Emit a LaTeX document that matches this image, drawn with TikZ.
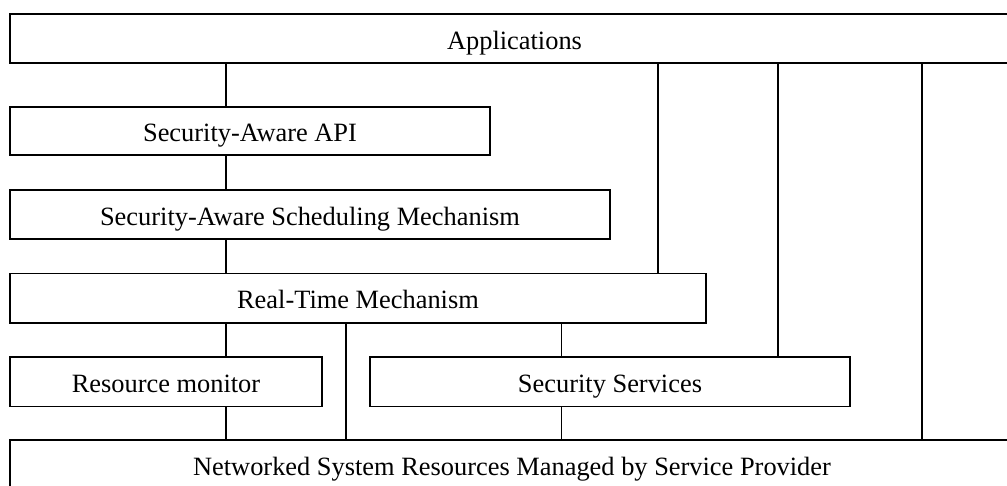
\documentclass[tikz,border=0pt]{standalone}
\usepackage{fontspec}
\setmainfont{Liberation Serif}
\begin{document}
\begin{tikzpicture}[x=1pt,y=-1pt,line width=1.4pt,
  layerbox/.style={draw,rectangle,inner sep=0pt,text height=21.5pt,text depth=0pt,
    font=\fontsize{26.4}{30}\selectfont},
  link/.style={draw,line width=1.4pt}]
\useasboundingbox (0,0) rectangle (1007,485);
\clip (0,0) rectangle (1007,485);
\node[layerbox,minimum width=1009pt,minimum height=49pt] (app) at (514.5,38.5) {Applications};
\node[layerbox,minimum width=480pt,minimum height=48pt] (api) at (250,131) {Security-Aware API};
\node[layerbox,minimum width=600pt,minimum height=49pt] (sched) at (310,214.5) {Security-Aware Scheduling Mechanism};
\node[layerbox,minimum width=696pt,minimum height=49.5pt] (rt) at (358,298.2) {Real-Time Mechanism};
\node[layerbox,minimum width=312pt,minimum height=49.5pt] (rm) at (166,381.7) {Resource monitor};
\node[layerbox,minimum width=480pt,minimum height=49.5pt] (ss) at (610,381.7) {Security Services};
\node[layerbox,minimum width=1004pt,minimum height=49pt] (net) at (512,464.5) {Networked System Resources Managed by Service Provider};
\coordinate (c1) at (226,0);
\coordinate (c2) at (346,0);
\coordinate (c3) at (561.5,0);
\coordinate (c4) at (658,0);
\coordinate (c5) at (778,0);
\coordinate (c6) at (922,0);
\draw[link] (c1 |- app.south) -- (c1 |- api.north);
\draw[link] (c1 |- api.south) -- (c1 |- sched.north);
\draw[link] (c1 |- sched.south) -- (c1 |- rt.north);
\draw[link] (c1 |- rt.south) -- (c1 |- rm.north);
\draw[link] (c1 |- rm.south) -- (c1 |- net.north);
\draw[link] (c2 |- rt.south) -- (c2 |- net.north);
\draw[link] (c3 |- rt.south) -- (c3 |- ss.north);
\draw[link] (c3 |- ss.south) -- (c3 |- net.north);
\draw[link] (c4 |- app.south) -- (c4 |- rt.north);
\draw[link] (c5 |- app.south) -- (c5 |- ss.north);
\draw[link] (c6 |- app.south) -- (c6 |- net.north);
\end{tikzpicture}
\end{document}
